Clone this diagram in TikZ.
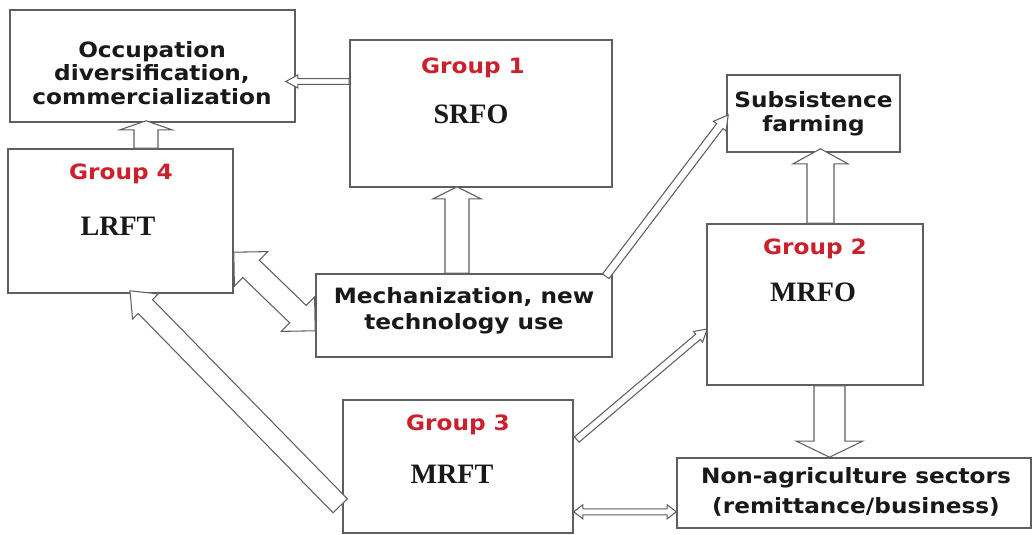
\documentclass[tikz,border=0pt]{standalone}
\usepackage{fontspec}
\setmainfont{Liberation Serif}
\newfontfamily\boxfont{DejaVu Sans Bold}[FakeStretch=1.1]
\usetikzlibrary{calc}
\definecolor{grpred}{RGB}{204,32,44}
\definecolor{edge}{RGB}{95,95,95}
\begin{document}
\begin{tikzpicture}[x=0.2mm, y=-0.2mm,
	box/.style={draw=edge, line width=0.9pt, fill=white, inner sep=0pt},
	txt/.style={font=\boxfont\fontsize{12}{#1}\selectfont, align=center, text=black!90},
	grp/.style={font=\boxfont\fontsize{12}{13}\selectfont, text=grpred},
	code/.style={font=\bfseries\fontsize{16}{20}\selectfont, text=black!90},
	arr/.style={draw=edge, line width=0.6pt, fill=white, line join=miter}]
				\useasboundingbox (0,0) rectangle (1034,535);
				% block arrow: tail, tip, half shaft, half head, head length (in px)
				\def\blockarrow#1#2#3#4#5{
					\coordinate (hb) at ($(#2)!#5*0.2mm!(#1)$);
					\filldraw[arr] ($(#1)!#3*0.2mm!90:(#2)$) -- ($(hb)!#3*0.2mm!90:(#2)$) -- ($(hb)!#4*0.2mm!90:(#2)$) -- (#2)
						-- ($(hb)!#4*0.2mm!-90:(#2)$) -- ($(hb)!#3*0.2mm!-90:(#2)$) -- ($(#1)!#3*0.2mm!-90:(#2)$) -- cycle;
				}
				\def\twinarrow#1#2#3#4#5{
					\coordinate (ha) at ($(#1)!#5*0.2mm!(#2)$);
					\coordinate (hb) at ($(#2)!#5*0.2mm!(#1)$);
					\filldraw[arr] (#1) -- ($(ha)!#4*0.2mm!90:(#2)$) -- ($(ha)!#3*0.2mm!90:(#2)$) -- ($(hb)!#3*0.2mm!90:(#2)$)
						-- ($(hb)!#4*0.2mm!90:(#2)$) -- (#2) -- ($(hb)!#4*0.2mm!-90:(#2)$) -- ($(hb)!#3*0.2mm!-90:(#2)$)
						-- ($(ha)!#3*0.2mm!-90:(#2)$) -- ($(ha)!#4*0.2mm!-90:(#2)$) -- cycle;
				}
				% boxes
				\node[box, minimum width=57mm, minimum height=22.4mm] (occ) at (152.5,66) {};
				\node[box, minimum width=52.4mm, minimum height=29.4mm] (g1) at (481,113.5) {};
				\node[box, minimum width=34.6mm, minimum height=15.4mm] (sub) at (813.5,113.5) {};
				\node[box, minimum width=45mm, minimum height=28.8mm] (g4) at (120.5,221) {};
				\node[box, minimum width=59.2mm, minimum height=16.6mm] (mech) at (464,315.5) {};
				\node[box, minimum width=43.2mm, minimum height=32.2mm] (g2) at (815,304.5) {};
				\node[box, minimum width=46mm, minimum height=26.6mm] (g3) at (458,466.5) {};
				\node[box, minimum width=70.8mm, minimum height=14mm] (non) at (854,493) {};
				% texts
				\node[txt=13.4] (occt) at (152,73) {Occupation\\diversification,\\commercialization};
				\node[txt=13.8] (subt) at (sub) {Subsistence\\farming};
				\node[txt=14.8] (mecht) at (464,311) {Mechanization, new\\technology use};
				\node[txt=17] (nont) at (856,492) {Non-agriculture sectors\\(remittance/business)};
				\node[grp] (g1t) at (473,68) {Group 1};
				\node[grp] (g2t) at (815,249) {Group 2};
				\node[grp] (g3t) at (458,425) {Group 3};
				\node[grp] (g4t) at (121,174) {Group 4};
				\node[code] (g1c) at (471,114) {SRFO};
				\node[code] (g2c) at (813,292) {MRFO};
				\node[code] (g3c) at (452,474) {MRFT};
				\node[code] (g4c) at (118,226) {LRFT};
				% arrow ends
				\coordinate (a1s) at ($(g1.west)+(0,-32)$);
				\coordinate (a1e) at ($(occ.east |- a1s)+(-10,0)$);
				\coordinate (a2s) at ($(g4.north)+(25.5,0)$);
				\coordinate (a2e) at ($(occ.south -| a2s)+(0,-2)$);
				\coordinate (a3s) at ($(mech.north)+(-7,0)$);
				\coordinate (a3e) at ($(g1.south -| a3s)+(0,-1)$);
				\coordinate (a4s) at ($(g4.north east)+(0,104)$);
				\coordinate (a4e) at ($(mech.south west)+(0,-27)$);
				\coordinate (a5s) at ($(mech.north east)+(-7,3)$);
				\coordinate (a5e) at ($(sub.west)+(2,1.5)$);
				\coordinate (a6s) at ($(g2.north)+(5.5,0)$);
				\coordinate (a6e) at ($(sub.south -| a6s)+(0,-4)$);
				\coordinate (a7s) at ($(g3.south west)+(-2,-28)$);
				\coordinate (a7e) at ($(g4.south)+(9.5,-3)$);
				\coordinate (a8s) at ($(g3.east)+(3,-27)$);
				\coordinate (a8e) at ($(g2.west)+(1,24.5)$);
				\coordinate (a9s) at ($(g2.south)+(14.5,0)$);
				\coordinate (a9e) at (non.north -| a9s);
				\coordinate (a10s) at ($(g3.south east)+(0,-22)$);
				\coordinate (a10e) at (non.west |- a10s);
				% arrows
				\blockarrow{a1s}{a1e}{2.8}{6.5}{12}
				\blockarrow{a2s}{a2e}{12}{26}{9}
				\blockarrow{a3s}{a3e}{12}{24}{12}
				\twinarrow{a4s}{a4e}{12}{24}{24}
				\blockarrow{a5s}{a5e}{4}{8}{14}
				\blockarrow{a6s}{a6e}{13.5}{27.5}{15}
				\blockarrow{a7s}{a7e}{10}{18}{22}
				\blockarrow{a8s}{a8e}{3.5}{7}{12}
				\blockarrow{a9s}{a9e}{15.5}{33}{16}
				\twinarrow{a10s}{a10e}{3}{7}{9}
\end{tikzpicture}
\end{document}
